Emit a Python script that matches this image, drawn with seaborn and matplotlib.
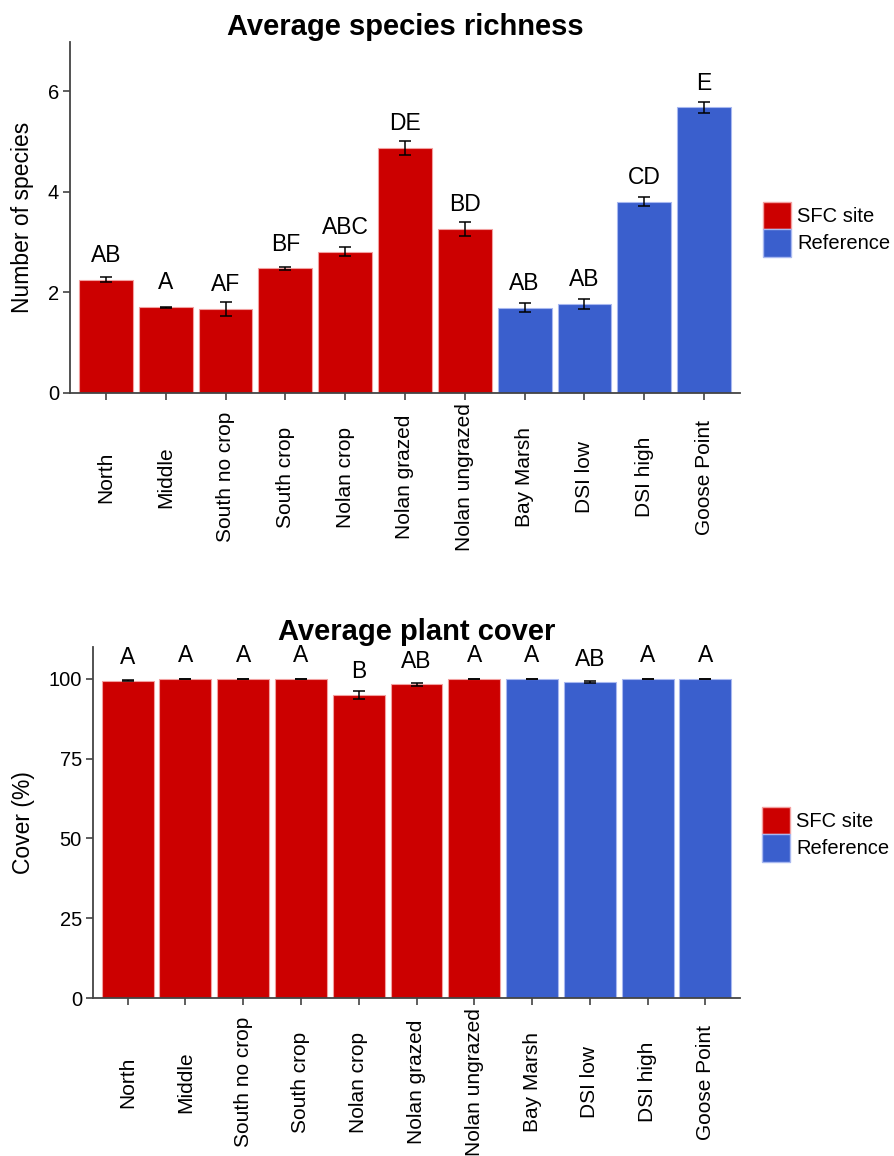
import matplotlib
matplotlib.use("Agg")
import matplotlib.pyplot as plt
import seaborn as sns
import pandas as pd
import numpy as np
from matplotlib.patches import Patch

sites = ["North", "Middle", "South no crop", "South crop", "Nolan crop",
         "Nolan grazed", "Nolan ungrazed", "Bay Marsh", "DSI low", "DSI high",
         "Goose Point"]
site_type = ["SFC site"] * 7 + ["Reference"] * 4

richness_mean = [2.25, 1.71, 1.67, 2.48, 2.81, 4.88, 3.27, 1.70, 1.77, 3.80, 5.68]
richness_se = [0.05, 0.01, 0.13, 0.03, 0.09, 0.14, 0.14, 0.08, 0.10, 0.09, 0.11]
richness_letters = ["AB", "A", "AF", "BF", "ABC", "DE", "BD", "AB", "AB", "CD", "E"]

cover_mean = [99.5, 100.0, 100.0, 100.0, 95.0, 98.3, 100.0, 100.0, 99.0, 100.0, 100.0]
cover_se = [0.3, 0.1, 0.1, 0.1, 1.2, 0.5, 0.1, 0.1, 0.3, 0.1, 0.1]
cover_letters = ["A", "A", "A", "A", "B", "AB", "A", "A", "AB", "A", "A"]

palette = {"SFC site": "#CC0000", "Reference": "#3A5FCD"}
edge = {"SFC site": "#F2A0A0", "Reference": "#A8B8F0"}

sns.set_theme(style="ticks")
plt.rcParams["font.family"] = ["Liberation Sans", "DejaVu Sans"]
plt.rcParams["text.color"] = "black"
plt.rcParams["axes.labelcolor"] = "black"
plt.rcParams["xtick.color"] = "#333333"
plt.rcParams["ytick.color"] = "#333333"
plt.rcParams["xtick.labelcolor"] = "black"
plt.rcParams["ytick.labelcolor"] = "black"

fig = plt.figure(figsize=(8.94, 11.56), dpi=100)
ax1 = fig.add_axes([70/894, 1-393/1156, (740-70)/894, (393-42)/1156])
ax2 = fig.add_axes([93/894, 1-998/1156, (740-93)/894, (998-647)/1156])


def draw(ax, means, letters_y_off, ses, letters, title, ylabel, ylim, yticks):
    df = pd.DataFrame({"site": sites, "type": site_type, "value": means})
    sns.barplot(data=df, x="site", y="value", hue="type", order=sites,
                hue_order=["SFC site", "Reference"], palette=palette,
                dodge=False, width=0.9, saturation=1, ax=ax, legend=False)
    for patch in ax.patches:
        cx = patch.get_x() + patch.get_width() / 2
        idx = int(round(cx))
        if 0 <= idx < len(sites) and patch.get_height() > 0:
            patch.set_edgecolor(edge[site_type[idx]])
            patch.set_linewidth(0.8)
    x = np.arange(len(sites))
    ax.errorbar(x, means, yerr=ses, fmt="none", ecolor="black",
                elinewidth=1.1, capsize=4, capthick=1.1)
    for xi, m, lab in zip(x, means, letters):
        ax.text(xi, m + letters_y_off, lab, ha="center", va="baseline",
                fontsize=16.5)
    ax.set_xlim(-0.6, 10.6)
    ax.set_ylim(*ylim)
    ax.set_yticks(yticks)
    ax.set_xlabel("")
    ax.set_ylabel(ylabel, fontsize=16.5)
    ax.set_title(title, fontsize=21, fontweight="bold", pad=5)
    ax.tick_params(axis="x", labelsize=15, length=5, width=1.1, pad=55.5)
    ax.tick_params(axis="y", labelsize=14.5, length=5, width=1.1, pad=3)
    for lab in ax.get_xticklabels():
        lab.set_rotation(90)
        lab.set_verticalalignment("center")
        lab.set_horizontalalignment("center")
    sns.despine(ax=ax)
    for sp in ["left", "bottom"]:
        ax.spines[sp].set_color("#444444")
        ax.spines[sp].set_linewidth(1.3)
    handles = [Patch(facecolor=palette[k], edgecolor=edge[k], label=k)
               for k in ["SFC site", "Reference"]]
    ax.legend(handles=handles, loc="center left",
              bbox_to_anchor=(1.034, 0.467), frameon=False, fontsize=14.5,
              handlelength=1.4, handleheight=1.72, handletextpad=0.3,
              labelspacing=0.0, borderpad=0, borderaxespad=0)
    return ax


draw(ax1, richness_mean, 0.35, richness_se, richness_letters,
     "Average species richness", "Number of species", (0, 6.98), [0, 2, 4, 6])
draw(ax2, cover_mean, 5.2, cover_se, cover_letters,
     "Average plant cover", "Cover (%)", (0, 110), [0, 25, 50, 75, 100])
ax1.yaxis.set_label_coords(-0.053, 0.5)
ax2.yaxis.set_label_coords(-0.090, 0.5)

fig.savefig("out.png", dpi=100)
